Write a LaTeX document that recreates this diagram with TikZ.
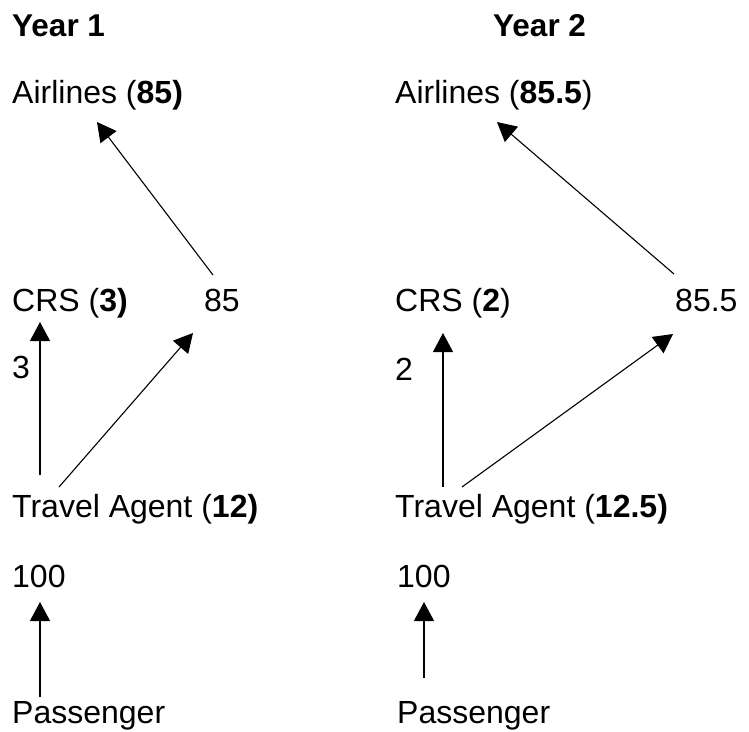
\documentclass[tikz,border=0pt]{standalone}
\usepackage{fontspec}
\setmainfont{Liberation Sans}
\usetikzlibrary{arrows.meta}
\begin{document}
\begin{tikzpicture}[x=1pt,y=-1pt,
  lbl/.style={anchor=base west,inner sep=0pt,font=\fontsize{32}{36}\selectfont},
  head/.style={anchor=base west,inner sep=0pt,font=\fontsize{31.5}{36}\selectfont\bfseries},
  flow/.style={line width=1.1pt,-{Triangle[length=19pt,width=20pt]}}]
\useasboundingbox (0,0) rectangle (749,731);
% column headings
\node[head] (h1) at (12,36) {Year 1};
\node[head] (h2) at (493,36) {Year 2};
% Year 1
\node[lbl] (air1) at (12,103) {Airlines (\textbf{85)}};
\node[lbl] (crs1) at (12,311) {CRS (\textbf{3)}};
\node[lbl] (v85) at (204,311) {85};
\node[lbl] (v3) at (12,378) {3};
\node[lbl] (ta1) at (12,517) {Travel Agent (\textbf{12)}};
\node[lbl] (p1v) at (12,587) {100};
\node[lbl] (pas1) at (12,723) {Passenger};
% Year 2
\node[lbl] (air2) at (395,103) {Airlines (\textbf{85.5})};
\node[lbl] (crs2) at (395,311) {CRS (\textbf{2})};
\node[lbl] (v855) at (675,311) {85.5};
\node[lbl] (v2) at (395,380) {2};
\node[lbl] (ta2) at (395,517) {Travel Agent (\textbf{12.5)}};
\node[lbl] (p2v) at (397,587) {100};
\node[lbl] (pas2) at (397,723) {Passenger};
% connector end points
\coordinate (a1s) at (213,275); \coordinate (a1t) at (97,122);
\coordinate (c1s) at (40,475);  \coordinate (c1t) at (40,322);
\coordinate (d1s) at (59,487);  \coordinate (d1t) at (193,333);
\coordinate (e1s) at (40,697);  \coordinate (e1t) at (40,602);
\coordinate (a2s) at (674,274); \coordinate (a2t) at (497,122);
\coordinate (c2s) at (443,487); \coordinate (c2t) at (443,333);
\coordinate (d2s) at (462,487); \coordinate (d2t) at (673,334);
\coordinate (e2s) at (424,678); \coordinate (e2t) at (424,602);
% connectors
\draw[flow] (a1s) -- (a1t);
\draw[flow] (c1s) -- (c1t);
\draw[flow] (d1s) -- (d1t);
\draw[flow] (e1s) -- (e1t);
\draw[flow] (a2s) -- (a2t);
\draw[flow] (c2s) -- (c2t);
\draw[flow] (d2s) -- (d2t);
\draw[flow] (e2s) -- (e2t);
\end{tikzpicture}
\end{document}
